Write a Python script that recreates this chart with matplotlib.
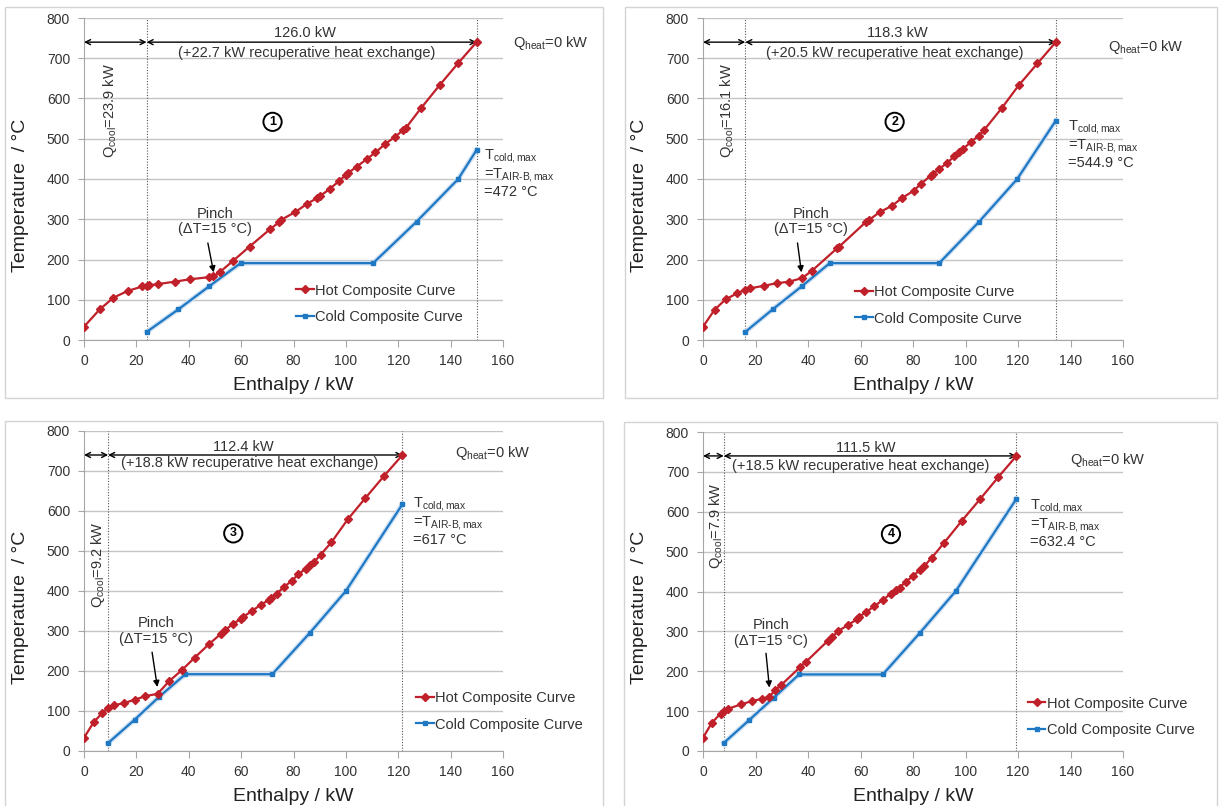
import matplotlib
matplotlib.use("Agg")
import matplotlib.pyplot as plt
from matplotlib.patches import Rectangle

plt.rcParams["font.family"] = ["Liberation Sans", "DejaVu Sans"]
plt.rcParams["mathtext.fontset"] = "custom"
plt.rcParams["mathtext.rm"] = "Liberation Sans"
plt.rcParams["mathtext.it"] = "Liberation Sans:italic"
plt.rcParams["mathtext.default"] = "regular"

# ---- data ----
hot_h1 = [0, 6, 11.2, 16.7, 22.3, 23.9, 25, 28.3, 34.7, 40.6, 47.6, 49.4, 52.1, 56.8, 63.2,
          71, 74.4, 75.4, 80.7, 85.1, 88.8, 90, 93.8, 97.2, 100, 100.9, 104.2, 107.9, 111.3,
          115, 118.6, 122, 122.8, 128.7, 135.9, 142.9, 149.9]
hot_t1 = [33, 76, 105, 122, 133, 135, 136, 139, 145, 151, 156, 158, 170, 196, 232,
          275, 292, 299, 318, 338, 352, 357, 375, 394, 410, 415, 431, 449, 466,
          487, 504, 522, 526, 576, 634, 688, 740]
cold_h1 = [23.9, 36, 47.9, 59.8, 110.4, 127, 142.9, 149.9]
cold_t1 = [20, 76, 134, 191, 191, 294, 400, 472]

hot_h2 = [0, 4.4, 8.6, 13, 16.1, 17.8, 23.3, 28.1, 32.9, 37.8, 41.5, 51.1, 51.9, 62.2, 63.4,
          67.4, 71.9, 75.9, 80.3, 83, 86.7, 87.7, 90, 93, 95.7, 97.5, 99, 102.2, 105.2,
          107, 113.8, 120.3, 127.4, 134.4]
hot_t2 = [33, 75, 101, 116, 125, 128, 135, 141, 145, 154, 172, 228, 232, 294, 299,
          318, 333, 353, 371, 388, 408, 413, 425, 440, 456, 466, 474, 493, 508,
          521, 576, 633, 687, 740]
cold_h2 = [16.1, 26.7, 37.9, 48.3, 90, 105.2, 119.7, 134.4]
cold_t2 = [20, 77, 135, 191, 191, 294, 400, 544.9]

hot_h3 = [0, 3.7, 7, 9.2, 11.4, 15.3, 19.3, 23.3, 28.1, 32.6, 37.5, 42.2, 47.7, 52.3, 53.8,
          57, 60, 60.7, 64.1, 67.4, 70.7, 71.4, 73.6, 76.3, 79.3, 81.9, 84.7, 86.2, 87.9,
          90.4, 94.5, 100.7, 107.4, 114.5, 121.6]
hot_t3 = [33, 72, 95, 108, 114, 120, 128, 137, 143, 175, 203, 233, 267, 293, 302,
          318, 331, 335, 350, 365, 378, 383, 393, 410, 425, 442, 456, 465, 473,
          491, 522, 579, 632, 687, 740]
cold_h3 = [9.2, 19.3, 28.6, 38.7, 71.9, 86.2, 100, 121.6]
cold_t3 = [20, 78, 135, 192, 192, 295, 400, 617]

hot_h4 = [0, 3.3, 6.7, 7.9, 9.6, 14.5, 18.5, 22.6, 25.2, 27.4, 29.7, 37.1, 39.3, 47.5, 49,
          51.6, 55.2, 58.6, 59.6, 62, 65.3, 68.5, 71.5, 73.4, 74.9, 77.4, 80.1, 82.6, 84.3,
          87.2, 91.7, 98.7, 105.6, 112.5, 119.4]
hot_t4 = [33, 70, 94, 100, 106, 117, 125, 131, 136, 152, 165, 211, 224, 276, 285,
          301, 316, 330, 337, 348, 363, 379, 394, 404, 410, 425, 439, 454, 464,
          485, 521, 578, 632, 687, 740]
cold_h4 = [7.9, 17.5, 27, 36.6, 68.5, 82.6, 96.4, 119.4]
cold_t4 = [20, 77, 134, 192, 192, 296, 402, 632.4]

q_cool = [23.9, 16.1, 9.2, 7.9]
q_total = [126.0, 118.3, 112.4, 111.5]
q_recup = [22.7, 20.5, 18.8, 18.5]
t_cold_max = ["472", "544.9", "617", "632.4"]
panel_ids = ["1", "2", "3", "4"]

hot_h = [hot_h1, hot_h2, hot_h3, hot_h4]
hot_t = [hot_t1, hot_t2, hot_t3, hot_t4]
cold_h = [cold_h1, cold_h2, cold_h3, cold_h4]
cold_t = [cold_t1, cold_t2, cold_t3, cold_t4]

# ---- layout (pixels of the 1219x806 canvas and data-space text anchors) ----
W, H = 1219, 806
axes_px = [(84, 18, 503, 340), (703, 18, 1123, 340),
           (84, 431, 503, 751), (703, 432, 1123, 751)]
frames_px = [(5, 7, 603, 398), (625, 7, 1217, 398),
             (5, 421, 603, 812), (624, 422, 1217, 812)]
layout = [
    dict(leg=(81, 90), pinch=(50, 295), arr=((47.3, 241), (49.5, 168)), qc=(10, 571),
         hd1=(84.4, 763), hd2=(85, 713), qh=(164, 738), tc=(152.7, 480), circ=(72, 542)),
    dict(leg=(58, 86), pinch=(41, 295), arr=((36, 241), (37.5, 168)), qc=(9.1, 570),
         hd1=(74, 762), hd2=(73, 713), qh=(154.3, 728), tc=(139, 552), circ=(73, 542)),
    dict(leg=(126.8, 99), pinch=(27.5, 300), arr=((26, 247), (28, 160)), qc=(5.3, 467),
         hd1=(61, 760), hd2=(63.4, 719), qh=(141.6, 744), tc=(125.8, 640), circ=(57, 544)),
    dict(leg=(123.8, 86), pinch=(26, 296), arr=((24, 245), (25.3, 159)), qc=(5, 565),
         hd1=(62, 760), hd2=(60, 715), qh=(140, 730), tc=(124.6, 638), circ=(71.6, 544)),
]

HOT = "#C0202A"
COLD = "#1F78C4"
TXT = "#333333"

fig = plt.figure(figsize=(W / 100, H / 100), dpi=100)

for fx0, fy0, fx1, fy1 in frames_px:
    fig.patches.append(Rectangle((fx0 / W, 1 - fy1 / H), (fx1 - fx0) / W, (fy1 - fy0) / H,
                                 transform=fig.transFigure, fill=False,
                                 edgecolor="#D4D4D4", linewidth=1))

for i in range(4):
    x0, y0, x1, y1 = axes_px[i]
    ax = fig.add_axes([x0 / W, 1 - y1 / H, (x1 - x0) / W, (y1 - y0) / H])
    L = layout[i]

    # faint glow under the cold curve, as in the source figure
    ax.plot(cold_h[i], cold_t[i], color="#CFE1F2", lw=3.6, zorder=2.5)
    ax.plot(cold_h[i], cold_t[i], color=COLD, lw=1.6, marker="s", ms=3.4,
            label="Cold Composite Curve", zorder=3)
    ax.plot(hot_h[i], hot_t[i], color=HOT, lw=1.6, marker="D", ms=3.6,
            label="Hot Composite Curve", zorder=4)

    ax.set_xlim(0, 160)
    ax.set_ylim(0, 800)
    ax.set_xticks(range(0, 161, 20))
    ax.set_yticks(range(0, 801, 100))
    ax.yaxis.grid(True, color="#C4C4C4", lw=1)
    ax.set_axisbelow(True)
    for s in ("top", "right"):
        ax.spines[s].set_visible(False)
    for s in ("left", "bottom"):
        ax.spines[s].set_color("#A6A6A6")
    ax.tick_params(axis="x", direction="out", length=5, width=0.8, color="#A6A6A6",
                   labelsize=10, labelcolor=TXT, pad=5)
    ax.tick_params(axis="y", direction="out", length=4, width=0.8, color="#A6A6A6",
                   labelsize=10, labelcolor=TXT, pad=6)

    ax.set_xlabel("Enthalpy / kW", fontsize=14, color="#222222")
    ax.set_ylabel("Temperature  / °C", fontsize=14, color="#222222")
    ax.xaxis.set_label_coords(0.5, -0.115)
    ax.yaxis.set_label_coords(-0.132, 0.45)

    h_end = hot_h[i][-1]
    for xv in (q_cool[i], h_end):
        ax.axvline(xv, color="#555555", lw=0.8, ls=(0, (1, 1.5)), zorder=2)

    arrow = dict(arrowstyle="<->", color="black", lw=1, shrinkA=0, shrinkB=0,
                 mutation_scale=9)
    ax.annotate("", xy=(0, 740), xytext=(q_cool[i], 740), arrowprops=arrow)
    ax.annotate("", xy=(q_cool[i], 740), xytext=(h_end, 740), arrowprops=arrow)

    ax.text(*L["hd1"], f"{q_total[i]:.1f} kW", ha="center", va="center",
            fontsize=10.5, color=TXT)
    ax.text(*L["hd2"], f"(+{q_recup[i]:.1f} kW recuperative heat exchange)",
            ha="center", va="center", fontsize=10.5, color=TXT)
    ax.text(*L["qh"], r"Q$_{heat}$=0 kW", ha="left", va="center", fontsize=10.5, color=TXT)
    ax.text(*L["qc"], r"Q$_{cool}$=" + f"{q_cool[i]:.1f} kW", rotation=90,
            ha="center", va="center", fontsize=10.5, color=TXT)
    ax.text(*L["tc"], r"T$_{cold,max}$" + "\n" + r"=T$_{AIR\text{-}B,max}$" + "\n"
            + f"={t_cold_max[i]} °C", ha="left", va="top", fontsize=10.5, color=TXT,
            linespacing=1.1)
    ax.text(*L["circ"], panel_ids[i], ha="center", va="center", fontsize=9,
            fontweight="bold", color="black",
            bbox=dict(boxstyle="circle,pad=0.25", fc="white", ec="black", lw=1.4))

    ax.text(*L["pinch"], "Pinch\n(ΔT=15 °C)", ha="center", va="center",
            fontsize=10.5, color=TXT, linespacing=1.1)
    ax.annotate("", xy=L["arr"][1], xytext=L["arr"][0],
                arrowprops=dict(arrowstyle="-|>", color="black", lw=1,
                                shrinkA=0, shrinkB=0, mutation_scale=9))

    ax.legend(loc="center left", bbox_to_anchor=L["leg"], bbox_transform=ax.transData,
              frameon=False, fontsize=10.5, handlelength=1.2, handletextpad=0.1,
              borderpad=0, borderaxespad=0, labelspacing=0.85,
              reverse=True, labelcolor=TXT)

fig.savefig("out.png", dpi=100)
